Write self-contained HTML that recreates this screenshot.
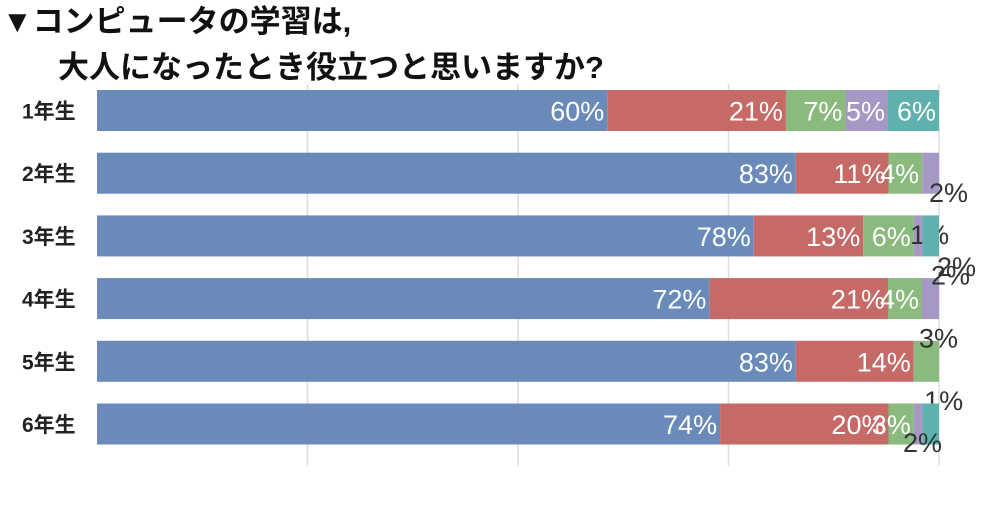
<!DOCTYPE html>
<html><head><meta charset="utf-8"><style>
body{margin:0;background:#fff;width:1003px;height:508px;overflow:hidden;font-family:"Liberation Sans","Noto Sans CJK JP",sans-serif}
</style></head><body>
<svg width="1003" height="508" xmlns="http://www.w3.org/2000/svg">
<text x="2" y="32" font-size="31" font-weight="bold" fill="#111" font-family="Liberation Sans, Noto Sans CJK JP, sans-serif">▼コンピュータの学習は,</text>
<text x="58" y="78" font-size="31" font-weight="bold" fill="#111" font-family="Liberation Sans, Noto Sans CJK JP, sans-serif">大人になったとき役立つと思いますか?</text>
<g id="grid"></g><g id="bars"></g>
</svg>
<script>
const categories=["1年生","2年生","3年生","4年生","5年生","6年生"];
const s1=[60,83,78,72,83,74];
const s2=[21,11,13,21,14,20];
const s3=[7,4,6,4,3,3];
const s4=[5,2,1,2,0,1];
const s5=[6,0,2,0,0,2];
const gridTicks=[25,50,75,100];
const series=[s1,s2,s3,s4,s5];
const colors=["#6a8bba","#c56a66","#8aba7e","#a598c4","#5eb1ac"];
const NS="http://www.w3.org/2000/svg";
const x0=97,W=842,y0=90,pitch=62.7,bh=41;
const grid=document.getElementById('grid'),bars=document.getElementById('bars');
gridTicks.forEach(t=>{const l=document.createElementNS(NS,'line');


const gx=x0+W*t/100;
l.setAttribute('x1',gx);l.setAttribute('x2',gx);l.setAttribute('y1',84);l.setAttribute('y2',466);
l.setAttribute('stroke','#ddd');l.setAttribute('stroke-width',1.5);grid.appendChild(l);});
// outside label offsets keyed "row-series": [dx from segment end, dy from bar top]
const outside={"1-3":[-10,112],"2-3":[-12,154],"2-4":[-2,186],"3-3":[-8,132],"4-2":[-20,132],"5-3":[2,132],"5-4":[-36,174]};
categories.forEach((c,i)=>{
 const y=y0+i*pitch;
 const total=series.reduce((a,s)=>a+s[i],0);
 const k=W/total;
 const lab=document.createElementNS(NS,'text');
 
 
 lab.setAttribute('x',22);lab.setAttribute('y',y+bh/2+8);lab.setAttribute('font-size',21);lab.setAttribute('font-weight','bold');lab.setAttribute('fill','#222');
 lab.textContent=c;bars.appendChild(lab);
 let acc=0;
 series.forEach((s,j)=>{
  const v=s[i];if(!v){return;}
  const xa=x0+acc*k,xb=x0+(acc+v)*k;
  const r=document.createElementNS(NS,'rect');
  
  
  r.setAttribute('x',xa);r.setAttribute('y',y);r.setAttribute('width',v*k);r.setAttribute('height',bh);r.setAttribute('fill',colors[j]);
  bars.appendChild(r);
  const t=document.createElementNS(NS,'text');
  
  
  t.setAttribute('font-size',27);
  t.textContent=v+'%';
  const key=i+'-'+j;
  if(outside[key]){
   const o=outside[key];
   t.setAttribute('x',xb+o[0]);t.setAttribute('y',y0+o[1]+(i-Math.floor(o[1]/pitch))*0);
   t.setAttribute('y',y+(o[1]-Math.floor(o[1]/pitch)*0)-(o[1]>100?o[1]-o[1]%pitch:0));
   t.setAttribute('fill','#333');
  }else{
   t.setAttribute('x',xb-3);t.setAttribute('y',y+bh/2+10);t.setAttribute('text-anchor','end');t.setAttribute('fill','#fff');
  }
  bars.appendChild(t);
  acc+=v;
 });
});
// fix outside label vertical positions explicitly relative to each row
(function(){
 const labels=bars.querySelectorAll('text[fill="#333"]');
 const dy={"1":[112],"2":[30,61],"3":[31],"4":[30],"5":[30,61]};
})();
</script>
<script>
// reposition outside labels relative to their row
(function(){
 const rowsDy={"1-3":113,"2-3":30,"2-4":61,"3-3":31,"5-3":30,"5-4":61,"4-2":31};
})();
</script>
</body></html>
